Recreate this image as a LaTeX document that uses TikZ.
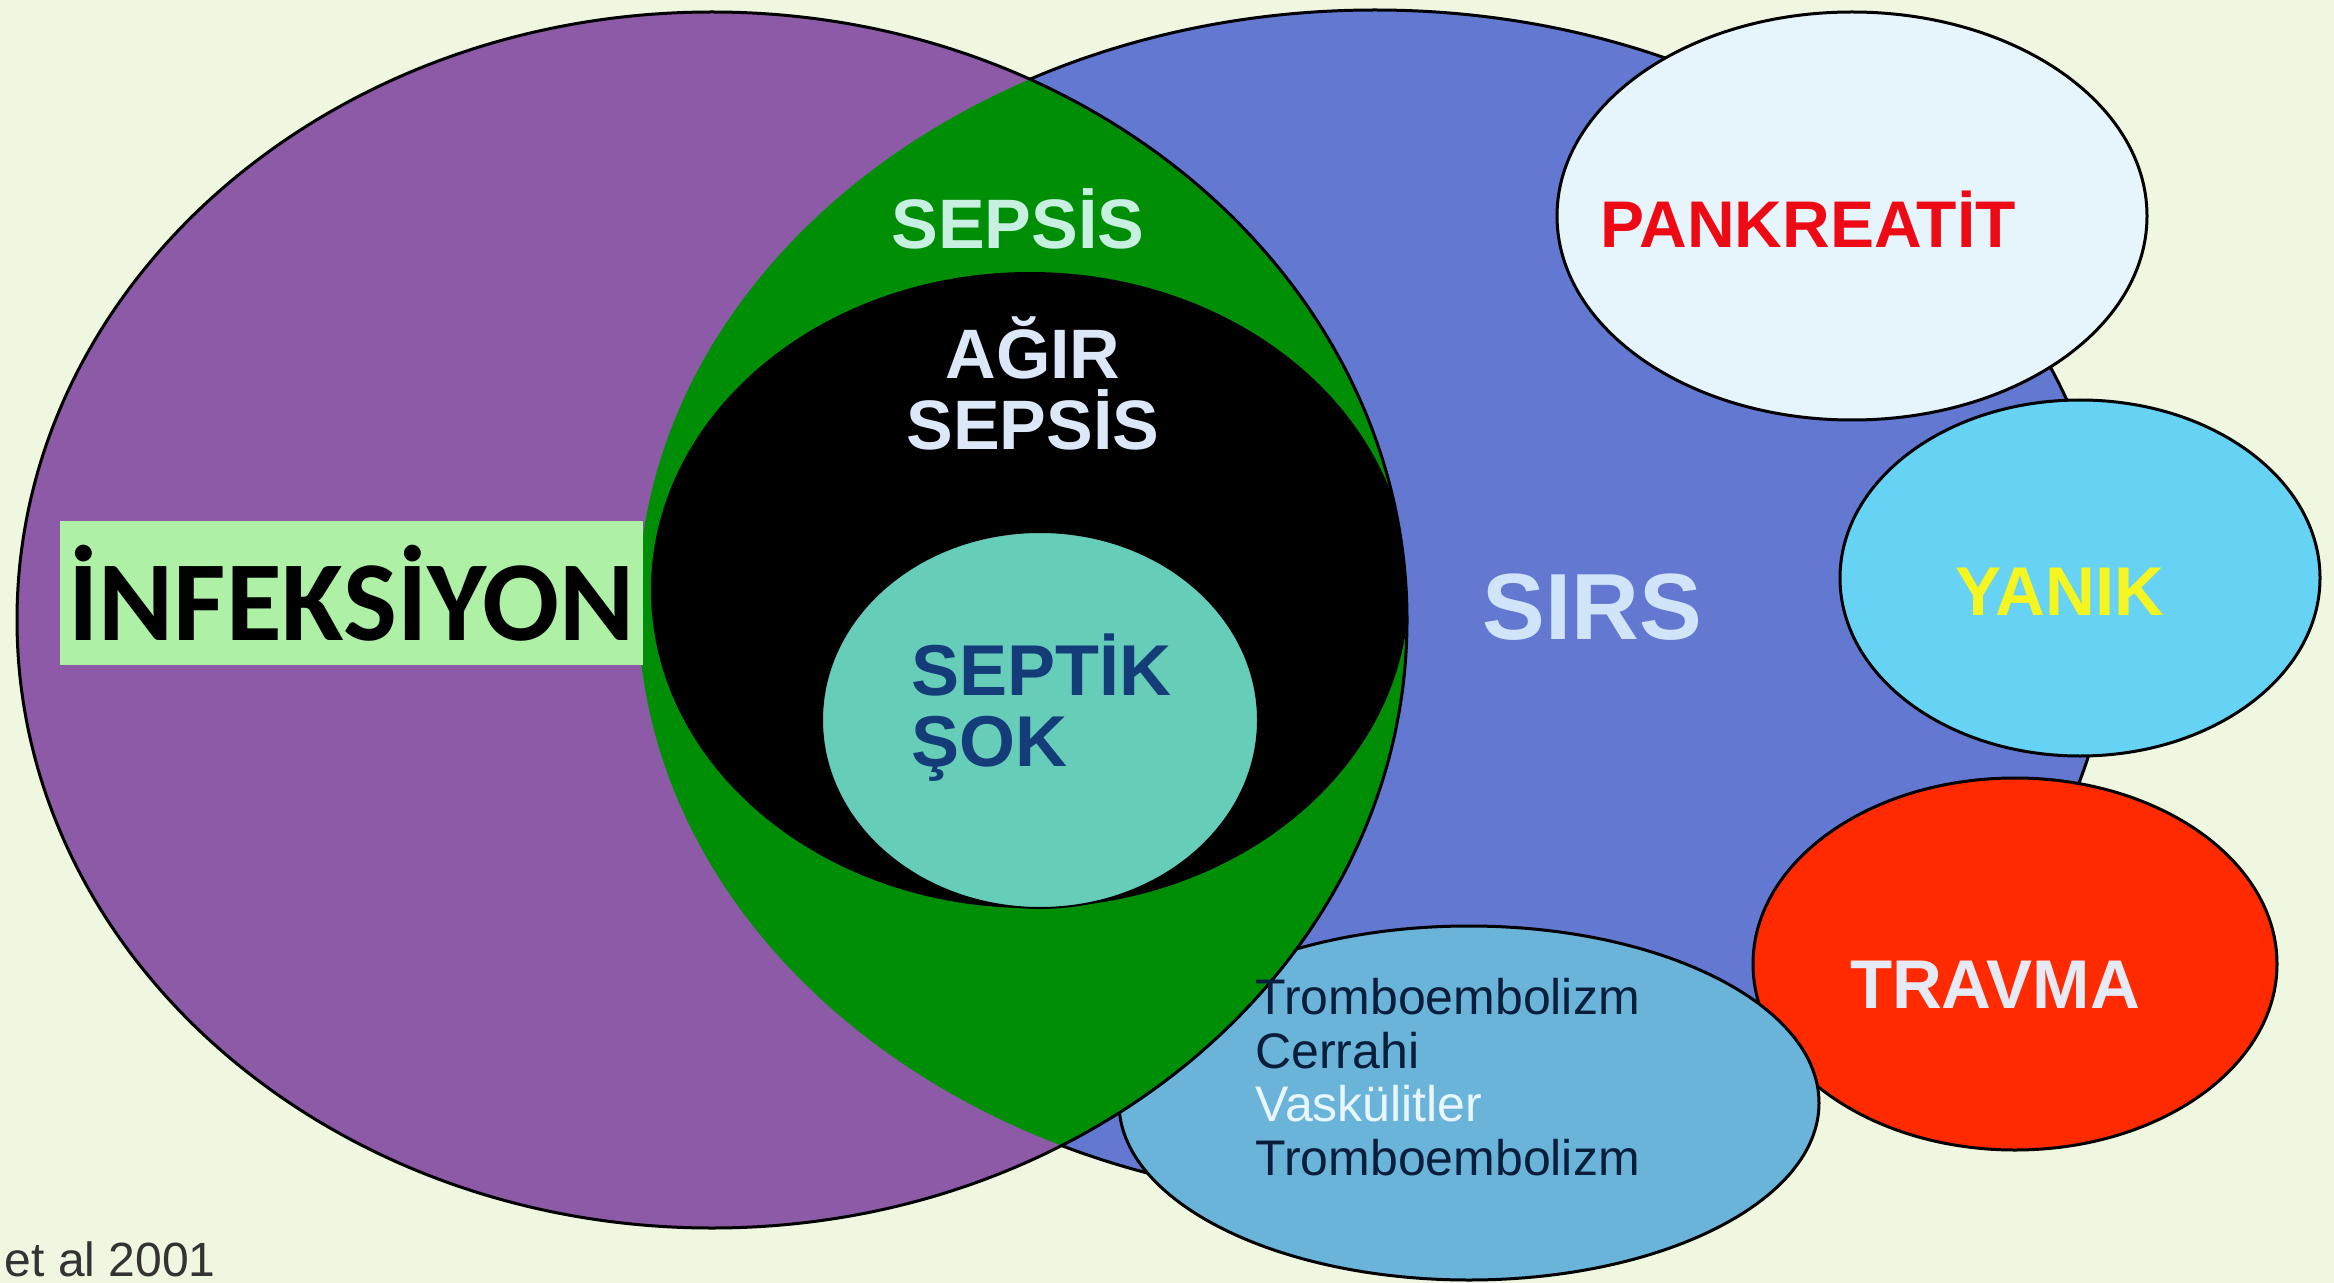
\documentclass[tikz,border=0pt]{standalone}
\usepackage{fontspec}
\setmainfont{Liberation Sans}
\newfontfamily\calib{Carlito}
\definecolor{bg}{HTML}{F0F7E0}
\definecolor{infpurple}{HTML}{8C5AA6}
\definecolor{sirsblue}{HTML}{6378D0}
\definecolor{lensgreen}{HTML}{008E06}
\definecolor{shockteal}{HTML}{66CDB8}
\definecolor{pankfill}{HTML}{E6F5FC}
\definecolor{yanikfill}{HTML}{66D2F4}
\definecolor{travmafill}{HTML}{FF2A00}
\definecolor{causefill}{HTML}{6AB4DA}
\definecolor{infbox}{HTML}{AEF0A6}
\definecolor{sepsistxt}{HTML}{C8F0E0}
\definecolor{agirtxt}{HTML}{DCE8F8}
\definecolor{septiktxt}{HTML}{143C78}
\definecolor{sirstxt}{HTML}{D0E4FA}
\definecolor{panktxt}{HTML}{EE0A14}
\definecolor{yaniktxt}{HTML}{F5F520}
\definecolor{travmatxt}{HTML}{E6EAF5}
\definecolor{causetxt}{HTML}{0A1E3C}
\definecolor{vasktxt}{HTML}{EAF6FF}
\definecolor{etaltxt}{HTML}{333333}
\begin{document}
\begin{tikzpicture}[x=0.5pt,y=-0.5pt,
  outl/.style={draw=black, line width=1.5pt},
  lbl/.style={inner sep=0pt, align=center, font=\bfseries}]
\useasboundingbox (0,0) rectangle (2334,1283);
\clip (0,0) rectangle (2334,1283);
\fill[bg] (0,0) rectangle (2334,1283);
% SIRS
\fill[sirsblue] (1375,606) ellipse [x radius=368.5pt, y radius=298pt];
\draw[outl] (1375,606) ellipse [x radius=368.5pt, y radius=298pt];
% side circles
\draw[outl, fill=pankfill] (1852,216) ellipse [x radius=147.5pt, y radius=102pt];
\draw[outl, fill=yanikfill] (2080,578) ellipse [x radius=120pt, y radius=89pt];
\draw[outl, fill=travmafill] (2015,964) ellipse [x radius=131pt, y radius=93pt];
\draw[outl, fill=causefill] (1469,1103) ellipse [x radius=175pt, y radius=88.5pt];
% infection
\fill[infpurple] (712,620) ellipse [x radius=347.5pt, y radius=304pt];
\begin{scope}
  \clip (712,620) ellipse [x radius=347.5pt, y radius=304pt];
  \fill[lensgreen] (1375,606) ellipse [x radius=368.5pt, y radius=298pt];
  \clip (1375,606) ellipse [x radius=368.5pt, y radius=298pt];
  \fill[black] (1030,590) ellipse [x radius=189.5pt, y radius=159pt];
\end{scope}
\draw[outl] (712,620) ellipse [x radius=347.5pt, y radius=304pt];
% septic shock
\draw[draw=black, line width=1pt, fill=shockteal] (1040,720) ellipse [x radius=109pt, y radius=94pt];
% labels
\node[fill=infbox, minimum width=291.5pt, minimum height=72pt, inner sep=0pt,
  font=\calib\bfseries\fontsize{57pt}{60pt}\selectfont] (inf) at (351.5,593) {İNFEKSİYON};
\node[lbl, text=sepsistxt, font=\bfseries\fontsize{35pt}{35.5pt}\selectfont] (sepsis) at (1018,219) {SEPSİS};
\node[lbl, text=agirtxt, font=\bfseries\fontsize{35pt}{35.5pt}\selectfont] (agir) at (1033,383) {AĞIR\\SEPSİS};
\node[lbl, align=left, anchor=west, text=septiktxt, font=\bfseries\fontsize{36pt}{35.5pt}\selectfont] (septik) at (911,708) {SEPTİK\\ŞOK};
\node[lbl, text=sirstxt, font=\bfseries\fontsize{47pt}{50pt}\selectfont] (sirs) at (1592,607) {SIRS};
\node[lbl, text=panktxt, font=\bfseries\fontsize{33pt}{36pt}\selectfont] (pank) at (1808,219) {PANKREATİT};
\node[lbl, text=yaniktxt, font=\bfseries\fontsize{34.5pt}{36pt}\selectfont] (yanik) at (2060,592) {YANIK};
\node[lbl, text=travmatxt, font=\bfseries\fontsize{34.5pt}{36pt}\selectfont] (travma) at (1995,985) {TRAVMA};
\node[inner sep=0pt, align=left, anchor=west, text=causetxt, font=\fontsize{25pt}{26.75pt}\selectfont] (causes) at (1255,1077)
  {Tromboembolizm\\Cerrahi\\\textcolor{vasktxt}{Vaskülitler}\\Tromboembolizm};
\node[inner sep=0pt, anchor=base east, text=etaltxt, font=\fontsize{24pt}{26pt}\selectfont] (etal) at (216,1276) {et al 2001};
\end{tikzpicture}
\end{document}
